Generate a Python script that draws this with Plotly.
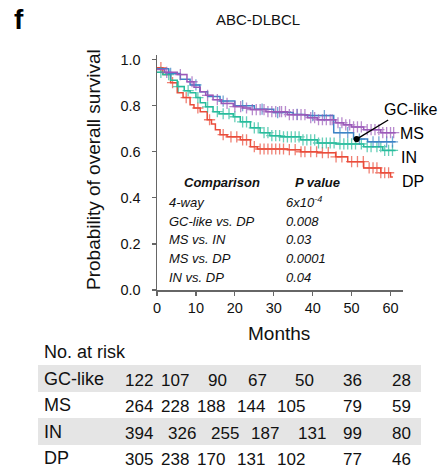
import plotly.graph_objects as go

# ---------------- data ----------------
groups = ["GC-like", "MS", "IN", "DP"]

ms_t = [0, 2, 5.2, 7.7, 9.5, 11.1, 12.5, 14.4, 16.5, 19.6, 22, 24, 28, 33.5, 38.7, 41.2, 45.9, 47.9, 50, 53.1, 57.5, 61.3]
ms_s = [0.957, 0.945, 0.935, 0.904, 0.88, 0.861, 0.845, 0.826, 0.81, 0.796, 0.79, 0.783, 0.774, 0.761, 0.748, 0.739, 0.726, 0.717, 0.708, 0.696, 0.683, 0.683]
ms_cens = [2.5, 6, 9, 13, 15.5, 18, 20, 21.5, 23, 24.5, 25.5, 26.5, 27.5, 28.5, 29.5, 30.5, 31.5, 32, 33, 34, 35, 36, 37, 38,
           39.5, 40.5, 41.5, 42.5, 43.5, 44.5, 45, 46.5, 47.5, 48.5, 49.5, 50.5, 51.5, 52.5, 54, 55, 56, 57, 58, 59, 60, 60.8]

gc_t = [0, 3, 6, 8.5, 11, 13, 16.2, 20, 25, 30, 35, 38, 45.4, 50.5, 54.1, 61.3]
gc_s = [0.96, 0.94, 0.915, 0.89, 0.86, 0.84, 0.82, 0.80, 0.785, 0.77, 0.762, 0.757, 0.683, 0.655, 0.643, 0.643]
gc_cens = [3.5, 10, 17, 22, 27, 31, 36, 40, 43, 47, 49, 52, 55.5, 57, 59, 60.5]

in_t = [0, 1.5, 3.5, 5.2, 7, 8.5, 10, 11.1, 12.5, 14.4, 16, 19.6, 21.4, 24, 26.5, 29, 31.7, 36.9, 41.2, 46, 53.1, 58, 61.3]
in_s = [0.945, 0.935, 0.91, 0.883, 0.865, 0.856, 0.835, 0.813, 0.795, 0.774, 0.765, 0.752, 0.73, 0.704, 0.683, 0.67, 0.665, 0.652, 0.638, 0.634, 0.622, 0.606, 0.606]
in_cens = [1, 3, 5.5, 8, 10.5, 13, 15.5, 17, 18.5, 20, 22, 23, 25, 26, 27.5, 28.5, 29.5, 30.5, 31.5, 32.5, 33.5, 34.5, 35.5,
           36.5, 37.5, 38.5, 39.5, 40.5, 41.5, 42.5, 43.5, 44.5, 45.5, 47, 48, 49, 50, 51, 52.5, 54, 55, 56.5, 57.5, 58.5, 59.5, 60.5]

dp_t = [0, 1.5, 3.5, 5.2, 6.7, 8.5, 9.5, 11.1, 12.9, 14, 15, 16.2, 18, 21.4, 24, 25.8, 33.5, 36.9, 41.2, 45.9, 49, 53.1, 57.5, 60, 60.6]
dp_s = [0.965, 0.935, 0.90, 0.856, 0.835, 0.804, 0.79, 0.774, 0.739, 0.72, 0.696, 0.674, 0.665, 0.652, 0.622, 0.612, 0.609, 0.60, 0.596, 0.578, 0.557, 0.53, 0.509, 0.49, 0.49]
dp_cens = [1, 4, 7.5, 10.5, 13.5, 17, 19, 20.5, 22, 23, 25, 26.5, 27.5, 28.5, 29.5, 30.5, 31.5, 32.5, 34, 35.5, 37, 38, 39.5,
           41, 42.5, 44, 46, 47.5, 50, 51.5, 53, 54.5, 55.5, 56.5, 57.5, 58.5, 59.5]

x_ticks = [0, 10, 20, 30, 40, 50, 60]
y_ticks = [0.0, 0.2, 0.4, 0.6, 0.8, 1.0]
y_ticktext = ["0.0", "0.2", "0.4", "0.6", "0.8", "1.0"]

comparisons = ["4-way", "GC-like vs. DP", "MS vs. IN", "MS vs. DP", "IN vs. DP"]
p_values = ["6x10<sup>-4</sup>", "0.008", "0.03", "0.0001", "0.04"]

risk_gc = [122, 107, 90, 67, 50, 36, 28]
risk_ms = [264, 228, 188, 144, 105, 79, 59]
risk_in = [394, 326, 255, 187, 131, 99, 80]
risk_dp = [305, 238, 170, 131, 102, 77, 46]

# ---------------- style / layout ----------------
W, H = 440, 470
L, R, T, B = 157, 403, 55, 290
FONT = "Liberation Sans, Arial, sans-serif"
colors = {"GC-like": "#3c84c6", "MS": "#9b59b9", "IN": "#27bc9c", "DP": "#ea4c3a"}


def px(xp):
    return (xp - L) / (R - L)


def py(yp):
    return (B - yp) / (B - T)


def step_value(ts, ss, t):
    v = ss[0]
    for ti, si in zip(ts, ss):
        if ti <= t:
            v = si
    return v


fig = go.Figure()

curves = [
    ("DP", dp_t, dp_s, dp_cens),
    ("IN", in_t, in_s, in_cens),
    ("GC-like", gc_t, gc_s, gc_cens),
    ("MS", ms_t, ms_s, ms_cens),
]
for name, ts, ss, cens in curves:
    c = colors[name]
    fig.add_trace(go.Scatter(x=ts, y=ss, mode="lines", line=dict(color=c, width=1.5, shape="hv"),
                             showlegend=False, hoverinfo="skip"))
    fig.add_trace(go.Scatter(x=cens, y=[step_value(ts, ss, t) for t in cens], mode="markers",
                             marker=dict(symbol="cross-thin", size=8, line=dict(color=c, width=1.3)),
                             opacity=0.7, showlegend=False, hoverinfo="skip"))

annotations = []

# panel letter and title
annotations.append(dict(text="<b>f</b>", x=px(19), y=py(19), xref="paper", yref="paper", showarrow=False,
                        font=dict(size=28, color="#000", family=FONT), xanchor="center", yanchor="middle"))
annotations.append(dict(text="ABC-DLBCL", x=px(258), y=py(20), xref="paper", yref="paper", showarrow=False,
                        font=dict(size=15, color="#111", family=FONT), xanchor="center", yanchor="middle"))
# axis titles
annotations.append(dict(text="Probability of overall survival", x=px(93), y=py(170), xref="paper", yref="paper",
                        showarrow=False, textangle=-90, font=dict(size=19, color="#111", family=FONT),
                        xanchor="center", yanchor="middle"))
annotations.append(dict(text="Months", x=px(279), y=py(333), xref="paper", yref="paper", showarrow=False,
                        font=dict(size=19, color="#111", family=FONT), xanchor="center", yanchor="middle"))

# comparison table inside plot
annotations.append(dict(text="<b><i>Comparison</i></b>", x=px(222), y=py(182), xref="paper", yref="paper",
                        showarrow=False, font=dict(size=13, color="#111", family=FONT),
                        xanchor="center", yanchor="middle"))
annotations.append(dict(text="<b><i>P value</i></b>", x=px(293), y=py(182), xref="paper", yref="paper",
                        showarrow=False, font=dict(size=13, color="#111", family=FONT),
                        xanchor="left", yanchor="middle"))
row_y = [202, 221, 239, 258, 277]
for comp, pv, yy in zip(comparisons, p_values, row_y):
    annotations.append(dict(text="<i>" + comp + "</i>", x=px(167), y=py(yy), xref="paper", yref="paper",
                            showarrow=False, font=dict(size=13, color="#111", family=FONT),
                            xanchor="left", yanchor="middle"))
    annotations.append(dict(text="<i>" + pv + "</i>", x=px(284), y=py(yy), xref="paper", yref="paper",
                            showarrow=False, font=dict(size=13, color="#111", family=FONT),
                            xanchor="left", yanchor="middle"))

# curve labels
label_pos = {"GC-like": (382, 109), "MS": (398, 133), "IN": (399, 157), "DP": (400, 181)}
for g in groups:
    xx, yy = label_pos[g]
    annotations.append(dict(text=g, x=px(xx), y=py(yy), xref="paper", yref="paper", showarrow=False,
                            font=dict(size=16, color="#000", family=FONT), xanchor="left", yanchor="middle"))

# pointer to GC-like curve
annotations.append(dict(text="", x=51.3, y=step_value(gc_t, gc_s, 51.3), xref="x", yref="y",
                        ax=33, ay=-20, showarrow=True, arrowhead=6, arrowsize=1.1, arrowwidth=1.4,
                        arrowcolor="#000", standoff=0, startstandoff=0))

# number at risk table
annotations.append(dict(text="No. at risk", x=px(42), y=py(352), xref="paper", yref="paper", showarrow=False,
                        font=dict(size=18, color="#111", family=FONT), xanchor="left", yanchor="middle"))
risk_rows = [("GC-like", risk_gc), ("MS", risk_ms), ("IN", risk_in), ("DP", risk_dp)]
row_centers = [379, 405, 432, 458]
col_x = [
    [139, 175, 217.5, 257.5, 304, 352.5, 401.5],
    [139, 174.5, 211, 251, 291, 352.5, 401.5],
    [139, 182, 225, 265, 312, 352.5, 401.5],
    [139, 175, 211, 251, 291, 352.5, 401.5],
]
band_rows = [(365, 392), (418, 445)]
shapes = []
for y0, y1 in band_rows:
    shapes.append(dict(type="rect", xref="paper", yref="paper", x0=px(38), x1=px(421), y0=py(y1), y1=py(y0),
                       fillcolor="#e5e5e5", line=dict(width=0), layer="below"))
for (name, vals), yy, cx in zip(risk_rows, row_centers, col_x):
    annotations.append(dict(text=name, x=px(42), y=py(yy), xref="paper", yref="paper", showarrow=False,
                            font=dict(size=18, color="#111", family=FONT), xanchor="left", yanchor="middle"))
    for v, xx in zip(vals, cx):
        annotations.append(dict(text=str(v), x=px(xx), y=py(yy + 1), xref="paper", yref="paper", showarrow=False,
                                font=dict(size=17, color="#111", family=FONT), xanchor="center",
                                yanchor="middle"))

fig.update_layout(
    width=W, height=H,
    margin=dict(l=L, r=W - R, t=T, b=H - B, pad=0),
    paper_bgcolor="white", plot_bgcolor="white",
    showlegend=False,
    font=dict(family=FONT, color="#111"),
    annotations=annotations,
    shapes=shapes,
    xaxis=dict(range=[0, 63.2], tickvals=x_ticks, showline=True, linecolor="#666", linewidth=1.5,
               ticks="outside", ticklen=4, tickcolor="#666", tickwidth=1.2, showgrid=False, zeroline=False,
               tickfont=dict(size=14.5, color="#111", family=FONT)),
    yaxis=dict(range=[0, 1.02], tickvals=y_ticks, ticktext=y_ticktext, showline=True, linecolor="#666",
               linewidth=1.5, ticks="outside", ticklen=4, tickcolor="#666", tickwidth=1.2, showgrid=False,
               zeroline=False, ticklabelstandoff=8, tickfont=dict(size=14.5, color="#111", family=FONT)),
)

fig.write_html("out.html",
               config={"displayModeBar": False, "staticPlot": True},
               post_script="document.body.style.margin='0';document.body.style.padding='0';"
                           "document.documentElement.style.overflow='hidden';")
